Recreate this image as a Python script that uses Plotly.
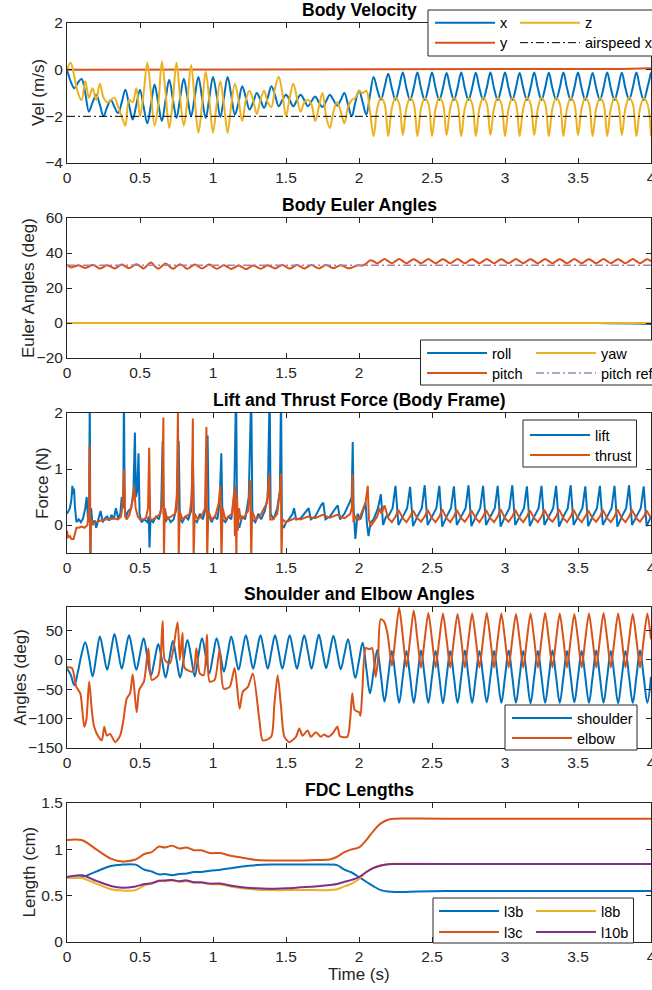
import plotly.graph_objects as go

# ---------------------------------------------------------------- data
t_grid = [
    0, .025, .05, .075, .1, .125, .15, .175,
    .2, .225, .25, .275, .3, .325, .35, .375,
    .4, .425, .45, .475, .5, .525, .55, .575,
    .6, .625, .65, .675, .7, .725, .75, .775,
    .8, .825, .85, .875, .9, .925, .95, .975,
    1, 1.025, 1.05, 1.075, 1.1, 1.125, 1.15, 1.175,
    1.2, 1.225, 1.25, 1.275, 1.3, 1.325, 1.35, 1.375,
    1.4, 1.425, 1.45, 1.475, 1.5, 1.525, 1.55, 1.575,
    1.6, 1.625, 1.65, 1.675, 1.7, 1.725, 1.75, 1.775,
    1.8, 1.825, 1.85, 1.875, 1.9, 1.925, 1.95, 1.975,
    2, 2.025, 2.05, 2.075, 2.1, 2.125, 2.15, 2.175,
    2.2, 2.225, 2.25, 2.275, 2.3, 2.325, 2.35, 2.375,
    2.4, 2.425, 2.45, 2.475, 2.5, 2.525, 2.55, 2.575,
    2.6, 2.625, 2.65, 2.675, 2.7, 2.725, 2.75, 2.775,
    2.8, 2.825, 2.85, 2.875, 2.9, 2.925, 2.95, 2.975,
    3, 3.025, 3.05, 3.075, 3.1, 3.125, 3.15, 3.175,
    3.2, 3.225, 3.25, 3.275, 3.3, 3.325, 3.35, 3.375,
    3.4, 3.425, 3.45, 3.475, 3.5, 3.525, 3.55, 3.575,
    3.6, 3.625, 3.65, 3.675, 3.7, 3.725, 3.75, 3.775,
    3.8, 3.825, 3.85, 3.875, 3.9, 3.925, 3.95, 3.975,
    4]

vel_x = [
    0, -0.5, -0.8, -0.55, -0.4, -1.0, -1.8, -1.4,
    -1.07, -1.5, -2.0, -1.6, -1.3, -1.6, -1.86, -1.4,
    -0.86, -1.5, -2.14, -1.5, -0.86, -1.6, -2.3, -1.5,
    -0.64, -1.45, -2.2, -1.3, -0.43, -1.25, -2.07, -1.2,
    -0.39, -1.2, -2.0, -1.15, -0.31, -1.2, -2.07, -1.2,
    -0.31, -1.1, -2.03, -1.2, -0.31, -1.1, -1.93, -1.4,
    -0.71, -1.2, -1.71, -1.4, -1.0, -1.3, -1.64, -1.2,
    -0.71, -1.1, -1.57, -1.3, -1.07, -1.3, -1.57, -1.3,
    -1.07, -1.3, -1.57, -1.35, -1.15, -1.4, -1.6, -1.35,
    -1.07, -1.3, -1.54, -1.3, -1.0, -1.5, -2.0, -1.4,
    -0.89, -1.4, -1.93, -1.1, -0.31, -0.85, -1.29, -0.75,
    -0.17, -0.8, -1.29, -0.75, -0.12, -0.8, -1.3, -0.78,
    -0.12, -0.8, -1.3, -0.78, -0.12, -0.8, -1.3, -0.78,
    -0.14, -0.8, -1.3, -0.78, -0.12, -0.8, -1.3, -0.78,
    -0.13, -0.8, -1.28, -0.78, -0.12, -0.8, -1.3, -0.78,
    -0.12, -0.8, -1.3, -0.78, -0.14, -0.8, -1.3, -0.78,
    -0.12, -0.8, -1.3, -0.78, -0.13, -0.8, -1.28, -0.78,
    -0.12, -0.8, -1.3, -0.78, -0.12, -0.8, -1.3, -0.78,
    -0.14, -0.8, -1.3, -0.78, -0.12, -0.8, -1.3, -0.78,
    -0.13, -0.8, -1.28, -0.78, -0.12, -0.8, -1.3, -0.78,
    -0.12]

vel_z = [
    0, 0.3, -0.3, -1.0, -1.3, -0.5, -1.2, -0.8,
    -1.3, -0.6, -1.2, -1.4, -1.3, -1.2, -1.6, -2.0,
    -2.4, -1.3, -1.4, -0.8, -2.0, -1.0, 0.3, -1.0,
    -2.4, -1.5, 0.35, -1.0, -2.5, -1.3, 0.3, -1.2,
    -2.4, -1.3, 0.2, -1.3, -2.7, -1.5, -0.1, -1.3,
    -2.7, -1.5, -0.5, -1.5, -2.7, -1.5, -0.6, -1.3,
    -2.2, -1.3, -0.9, -1.3, -1.9, -1.3, -0.9, -1.4,
    -1.6, -0.8, -0.3, -1.0, -2.0, -1.2, -0.6, -1.2,
    -1.8, -1.4, -1.3, -1.5, -2.2, -1.6, -1.0, -2.0,
    -2.5, -1.8, -1.4, -1.8, -2.3, -1.6, -1.3, -1.2,
    -0.9, -1.0, -0.9, -1.8, -2.85, -1.65, -1.2, -1.45,
    -2.85, -1.65, -1.2, -1.45, -2.8, -1.65, -1.2, -1.45,
    -2.85, -1.65, -1.22, -1.45, -2.85, -1.65, -1.2, -1.45,
    -2.8, -1.65, -1.2, -1.45, -2.85, -1.65, -1.22, -1.45,
    -2.85, -1.65, -1.2, -1.45, -2.8, -1.65, -1.2, -1.45,
    -2.85, -1.65, -1.22, -1.45, -2.85, -1.65, -1.2, -1.45,
    -2.8, -1.65, -1.2, -1.45, -2.85, -1.65, -1.22, -1.45,
    -2.85, -1.65, -1.2, -1.45, -2.8, -1.65, -1.2, -1.45,
    -2.85, -1.65, -1.22, -1.45, -2.85, -1.65, -1.2, -1.45,
    -2.8, -1.65, -1.2, -1.45, -2.85, -1.65, -1.22, -1.45,
    -2.85]

vel_y_t = [0, 3.0, 3.5, 3.8, 4.0]
vel_y = [0, 0, 0.01, 0.03, 0.06]
airspeed_t = [0, 4]
airspeed_x = [-2, -2]

pitch = [
    33.3, 31.8, 32.2, 33.0, 32.3, 31.4, 32.3, 33.2,
    32.3, 31.2, 32.0, 33.0, 32.2, 31.2, 32.2, 33.4,
    32.3, 31.3, 32.5, 33.6, 32.5, 31.2, 33.0, 34.6,
    32.6, 31.0, 32.5, 34.0, 32.5, 31.0, 32.3, 33.6,
    32.3, 31.0, 32.2, 33.5, 32.3, 31.2, 32.3, 33.4,
    32.2, 31.0, 32.0, 33.0, 32.0, 30.9, 31.8, 32.8,
    31.9, 30.8, 31.8, 32.8, 32.0, 31.0, 32.0, 33.0,
    32.1, 31.2, 32.2, 33.2, 32.1, 31.1, 32.1, 33.1,
    32.2, 31.2, 32.2, 33.2, 32.1, 31.2, 32.2, 33.2,
    32.2, 31.3, 32.2, 33.0, 32.2, 31.3, 31.6, 32.5,
    33.0, 32.8, 34.0, 35.8, 35.3, 34.1, 35.3, 36.6,
    35.3, 34.1, 35.3, 36.6, 35.3, 34.1, 35.4, 36.5,
    35.3, 34.1, 35.3, 36.6, 35.3, 34.1, 35.4, 36.5,
    35.3, 34.1, 35.3, 36.6, 35.3, 34.1, 35.4, 36.5,
    35.3, 34.1, 35.3, 36.6, 35.3, 34.1, 35.4, 36.5,
    35.3, 34.1, 35.3, 36.6, 35.3, 34.1, 35.4, 36.5,
    35.3, 34.1, 35.3, 36.6, 35.3, 34.1, 35.4, 36.5,
    35.3, 34.1, 35.3, 36.6, 35.3, 34.1, 35.4, 36.5,
    35.3, 34.1, 35.3, 36.6, 35.3, 34.1, 35.4, 36.5,
    35.3, 34.1, 35.3, 36.6, 35.3, 34.1, 35.4, 36.5,
    35.3]
roll_t = [0, 3.4, 3.7, 3.9, 4.0]
roll = [0, 0, -0.1, -0.3, -0.5]
yaw_t = [0, 4]
yaw = [0, 0]
pitch_ref_t = [0, 4]
pitch_ref = [33, 33]

lift_pts = [
    (0.000, 0.20), (0.010, 0.25), (0.020, 0.30), (0.030, 0.45), (0.037, 0.70),
    (0.043, 0.55), (0.048, 0.65), (0.055, 0.30), (0.065, 0.05), (0.080, 0.10),
    (0.095, 0.05), (0.110, 0.12), (0.125, 0.30), (0.135, 0.50), (0.145, 0.05),
    (0.152, 0.40), (0.156, 2.40), (0.160, -0.60), (0.165, 0.30), (0.175, 0.00),
    (0.190, 0.08), (0.200, -0.05), (0.215, 0.10), (0.230, 0.25), (0.245, 0.05),
    (0.260, 0.12), (0.275, 0.15), (0.290, 0.08), (0.305, 0.18), (0.320, 0.10),
    (0.335, 0.30), (0.350, 0.12), (0.365, 0.20), (0.375, 0.50), (0.385, 0.30),
    (0.390, 2.40), (0.395, 0.30), (0.405, 0.15), (0.420, 0.25), (0.440, 0.30),
    (0.455, 0.60), (0.465, 1.65), (0.472, 0.50), (0.480, 0.60), (0.490, 1.28),
    (0.497, 0.20), (0.510, 0.05), (0.530, 0.10), (0.550, 0.05), (0.560, 0.15),
    (0.565, -0.40), (0.572, 0.10), (0.590, 0.05), (0.610, 0.15), (0.630, 0.10),
    (0.645, 0.30), (0.655, 1.50), (0.662, 0.20), (0.675, 0.05), (0.690, 0.15),
    (0.710, 0.05), (0.730, 0.10), (0.750, 0.30), (0.765, 1.50), (0.773, 0.10),
    (0.790, 0.05), (0.810, 0.15), (0.830, 0.10), (0.850, 0.25), (0.862, 1.20),
    (0.870, 0.10), (0.890, 0.05), (0.910, 0.20), (0.930, 0.10), (0.950, 0.30),
    (0.963, 1.60), (0.970, 0.20), (0.990, 0.05), (1.010, 0.15), (1.030, 0.10),
    (1.045, 0.40), (1.057, 1.28), (1.065, 0.10), (1.085, 0.05), (1.105, 0.15),
    (1.125, 0.10), (1.145, 0.50), (1.158, 2.40), (1.165, 0.10), (1.180, -0.05),
    (1.200, 0.15), (1.220, 0.10), (1.245, 0.50), (1.262, 2.40), (1.270, 0.10),
    (1.290, 0.05), (1.310, 0.20), (1.330, 0.10), (1.355, 0.25), (1.375, 0.50),
    (1.388, 2.40), (1.395, 0.20), (1.415, 0.10), (1.440, 0.30), (1.458, 0.60),
    (1.466, 2.40), (1.472, 0.00), (1.485, -0.05), (1.500, 0.05), (1.520, 0.10),
    (1.545, 0.20), (1.555, 0.30), (1.570, 0.10), (1.600, 0.12), (1.640, 0.25),
    (1.655, 0.30), (1.670, 0.10), (1.700, 0.15), (1.740, 0.35), (1.755, 0.40),
    (1.770, 0.10), (1.800, 0.15), (1.840, 0.30), (1.855, 0.35), (1.870, 0.10),
    (1.900, 0.20), (1.935, 0.40), (1.950, 0.50), (1.957, 1.48), (1.963, 0.30),
    (1.975, -0.25), (1.990, 0.20), (2.010, 0.10), (2.030, 0.25), (2.045, 0.40),
    (2.055, 0.00), (2.065, -0.20), (2.080, 0.05), (2.100, 0.10), (2.130, 0.30),
    (2.150, 0.55), (2.165, 0.00), (2.185, 0.15),
    (2.20, 0.15), (2.23, 0.30), (2.25, 0.70), (2.27, 0.00),
    (2.30, 0.15), (2.33, 0.30), (2.35, 0.68), (2.37, -0.02),
    (2.40, 0.15), (2.43, 0.30), (2.45, 0.71), (2.47, 0.00),
    (2.50, 0.15), (2.53, 0.30), (2.55, 0.70), (2.57, -0.03),
    (2.60, 0.15), (2.63, 0.30), (2.65, 0.69), (2.67, 0.00),
    (2.70, 0.15), (2.73, 0.30), (2.75, 0.71), (2.77, -0.02),
    (2.80, 0.15), (2.83, 0.30), (2.85, 0.70), (2.87, 0.00),
    (2.90, 0.15), (2.93, 0.30), (2.95, 0.70), (2.97, -0.03),
    (3.00, 0.15), (3.03, 0.30), (3.05, 0.71), (3.07, 0.00),
    (3.10, 0.15), (3.13, 0.30), (3.15, 0.69), (3.17, -0.02),
    (3.20, 0.15), (3.23, 0.30), (3.25, 0.70), (3.27, 0.00),
    (3.30, 0.15), (3.33, 0.30), (3.35, 0.70), (3.37, -0.03),
    (3.40, 0.15), (3.43, 0.30), (3.45, 0.71), (3.47, 0.00),
    (3.50, 0.15), (3.53, 0.30), (3.55, 0.69), (3.57, -0.02),
    (3.60, 0.15), (3.63, 0.30), (3.65, 0.70), (3.67, 0.00),
    (3.70, 0.15), (3.73, 0.30), (3.75, 0.70), (3.77, -0.03),
    (3.80, 0.15), (3.83, 0.30), (3.85, 0.71), (3.87, 0.00),
    (3.90, 0.15), (3.93, 0.30), (3.95, 0.69), (3.97, -0.02),
    (4.00, 0.15)]

thrust_pts = [
    (0.000, -0.10), (0.008, -0.22), (0.020, -0.20), (0.030, -0.25), (0.045, -0.25),
    (0.055, -0.15), (0.065, -0.05), (0.080, -0.05), (0.100, -0.03), (0.120, -0.05),
    (0.140, 0.00), (0.150, 0.30), (0.155, 1.42), (0.160, -0.60), (0.166, 0.10),
    (0.175, 0.02), (0.200, 0.05), (0.230, 0.08), (0.260, 0.10), (0.290, 0.10),
    (0.320, 0.12), (0.350, 0.10), (0.370, 0.15), (0.380, 0.35), (0.392, 1.00),
    (0.398, 0.15), (0.410, 0.10), (0.430, 0.20), (0.450, 0.45), (0.460, 0.70),
    (0.470, 0.30), (0.485, 0.15), (0.500, 0.10), (0.520, 0.10), (0.540, 0.12),
    (0.555, 0.30), (0.563, 1.38), (0.570, 0.10), (0.590, 0.10), (0.615, 0.15),
    (0.640, 0.20), (0.652, 0.40), (0.660, 1.92), (0.664, -0.60), (0.670, 0.30),
    (0.685, 0.10), (0.710, 0.15), (0.740, 0.20), (0.752, 0.50), (0.760, 2.05),
    (0.765, -0.60), (0.772, 0.25), (0.790, 0.10), (0.815, 0.15), (0.840, 0.20),
    (0.855, 0.50), (0.862, 1.90), (0.867, -0.60), (0.875, 0.20), (0.895, 0.10),
    (0.920, 0.15), (0.945, 0.30), (0.955, 1.75), (0.960, -0.60), (0.968, 0.25),
    (0.990, 0.10), (1.015, 0.15), (1.040, 0.40), (1.050, 0.70), (1.058, -0.60),
    (1.066, 0.30), (1.085, 0.10), (1.110, 0.15), (1.130, 0.20), (1.145, 0.60),
    (1.150, -0.20), (1.155, 0.70), (1.160, -0.60), (1.165, 0.50), (1.170, -0.10),
    (1.178, 0.30), (1.190, 0.10), (1.215, 0.15), (1.240, 0.25), (1.255, 0.80),
    (1.262, -0.60), (1.268, 0.25), (1.290, 0.10), (1.320, 0.15), (1.350, 0.30),
    (1.370, 0.40), (1.385, 0.90), (1.392, 0.10), (1.410, 0.10), (1.440, 0.20),
    (1.458, 0.60), (1.465, 0.92), (1.469, -0.60), (1.475, 0.10), (1.500, 0.05),
    (1.530, 0.08), (1.560, 0.12), (1.600, 0.10), (1.650, 0.15), (1.700, 0.12),
    (1.750, 0.18), (1.800, 0.13), (1.850, 0.18), (1.900, 0.12), (1.940, 0.20),
    (1.950, 0.30), (1.955, 0.91), (1.962, 0.05), (1.975, 0.15), (2.000, 0.10),
    (2.030, 0.30), (2.045, 0.40), (2.060, 0.70), (2.068, 0.10), (2.080, -0.02),
    (2.100, 0.05), (2.125, 0.15), (2.140, 0.30), (2.155, 0.20), (2.175, 0.35),
    (2.200, 0.12), (2.225, 0.05), (2.250, 0.15), (2.270, 0.27),
    (2.300, 0.12), (2.325, 0.05), (2.350, 0.15), (2.370, 0.26),
    (2.400, 0.12), (2.425, 0.06), (2.450, 0.15), (2.470, 0.27),
    (2.500, 0.12), (2.525, 0.05), (2.550, 0.15), (2.570, 0.28),
    (2.600, 0.12), (2.625, 0.05), (2.650, 0.15), (2.670, 0.27),
    (2.700, 0.12), (2.725, 0.06), (2.750, 0.15), (2.770, 0.26),
    (2.800, 0.12), (2.825, 0.05), (2.850, 0.15), (2.870, 0.27),
    (2.900, 0.12), (2.925, 0.05), (2.950, 0.15), (2.970, 0.28),
    (3.000, 0.12), (3.025, 0.06), (3.050, 0.15), (3.070, 0.27),
    (3.100, 0.12), (3.125, 0.05), (3.150, 0.15), (3.170, 0.26),
    (3.200, 0.12), (3.225, 0.05), (3.250, 0.15), (3.270, 0.27),
    (3.300, 0.12), (3.325, 0.06), (3.350, 0.15), (3.370, 0.28),
    (3.400, 0.12), (3.425, 0.05), (3.450, 0.15), (3.470, 0.27),
    (3.500, 0.12), (3.525, 0.05), (3.550, 0.15), (3.570, 0.26),
    (3.600, 0.12), (3.625, 0.06), (3.650, 0.15), (3.670, 0.27),
    (3.700, 0.12), (3.725, 0.05), (3.750, 0.15), (3.770, 0.28),
    (3.800, 0.12), (3.825, 0.05), (3.850, 0.15), (3.870, 0.27),
    (3.900, 0.12), (3.925, 0.06), (3.950, 0.15), (3.970, 0.26),
    (4.000, 0.12)]

shoulder = [
    -15, -25, -43, -20, 10, 30, 5, -28,
    5, 40, 12, -17, 13, 44, 15, -15,
    14, 42, 13, -17, 10, 37, 5, -27,
    0, 27, 0, -30, 0, 32, 1, -30,
    2, 34, 5, -28, 7, 37, 7, -23,
    7, 37, 10, -20, 10, 40, 12, -17,
    13, 42, 14, -15, 14, 42, 14, -15,
    14, 42, 14, -15, 14, 42, 14, -15,
    14, 42, 14, -15, 14, 43, 14, -14,
    14, 41, 13, -16, 10, 35, 2, -31,
    -1, 29, -14, -57, -20, 17, -27, -71,
    -28, 15, -29, -73, -29, 15, -29, -73,
    -29, 16, -29, -73, -29, 15, -29, -74,
    -29, 15, -29, -73, -29, 16, -29, -73,
    -29, 15, -29, -72, -29, 15, -29, -73,
    -29, 16, -29, -73, -29, 15, -29, -74,
    -29, 15, -29, -73, -29, 16, -29, -73,
    -29, 15, -29, -72, -29, 15, -29, -73,
    -29, 16, -29, -73, -29, 15, -29, -74,
    -29, 15, -29, -73, -29, 16, -29, -73,
    -29]

elbow_pts = [
    (0.000, -12.6), (0.034, -14), (0.064, -46), (0.091, -57), (0.118, -114),
    (0.132, -103), (0.152, -37), (0.170, -86), (0.186, -114), (0.216, -131),
    (0.239, -137), (0.255, -114), (0.273, -129), (0.295, -126), (0.330, -140),
    (0.364, -129), (0.386, -103), (0.409, -66), (0.432, -57), (0.450, -25),
    (0.477, -89), (0.495, -51), (0.527, -37), (0.557, 20), (0.580, -34),
    (0.625, -26), (0.655, 66), (0.670, 0), (0.705, -6), (0.757, 64),
    (0.773, 0), (0.791, 46), (0.807, -14), (0.864, -20), (0.886, 20),
    (0.909, -23), (0.936, -26), (0.959, 43), (0.977, -37), (1.011, -34),
    (1.045, 17), (1.073, -49), (1.114, -46), (1.148, -14), (1.182, -83),
    (1.205, -54), (1.239, -46), (1.273, -23), (1.318, -103), (1.341, -137),
    (1.398, -131), (1.420, -77), (1.443, -26), (1.466, -80), (1.489, -131),
    (1.523, -140), (1.568, -131), (1.591, -117), (1.614, -129), (1.648, -120),
    (1.670, -131), (1.705, -123), (1.739, -131), (1.760, -127), (1.790, -131),
    (1.820, -125), (1.852, -114), (1.870, -130), (1.920, -131), (1.940, -100),
    (1.954, -57), (1.970, -85), (1.990, -88), (2.000, -89), (2.010, -95),
    (2.023, -51), (2.046, 20), (2.070, 18), (2.090, 20), (2.114, -29),
    (2.130, 0), (2.148, 69), (2.170, 66), (2.195, 45), (2.225, -10),
    (2.250, 40), (2.275, 89), (2.300, 40), (2.325, -12), (2.350, 35),
    (2.375, 84), (2.400, 35), (2.425, -13), (2.450, 35), (2.475, 80),
    (2.500, 35), (2.525, -13), (2.550, 35), (2.575, 79),
    (2.600, 35), (2.625, -13), (2.650, 35), (2.675, 78),
    (2.700, 35), (2.725, -13), (2.750, 35), (2.775, 79),
    (2.800, 35), (2.825, -13), (2.850, 35), (2.875, 80),
    (2.900, 35), (2.925, -13), (2.950, 35), (2.975, 79),
    (3.000, 35), (3.025, -13), (3.050, 35), (3.075, 78),
    (3.100, 35), (3.125, -13), (3.150, 35), (3.175, 79),
    (3.200, 35), (3.225, -13), (3.250, 35), (3.275, 80),
    (3.300, 35), (3.325, -13), (3.350, 35), (3.375, 79),
    (3.400, 35), (3.425, -13), (3.450, 35), (3.475, 78),
    (3.500, 35), (3.525, -13), (3.550, 35), (3.575, 79),
    (3.600, 35), (3.625, -13), (3.650, 35), (3.675, 80),
    (3.700, 35), (3.725, -13), (3.750, 35), (3.775, 79),
    (3.800, 35), (3.825, -13), (3.850, 35), (3.875, 78),
    (3.900, 35), (3.925, -13), (3.950, 35), (3.975, 79),
    (4.000, 35)]

fdc_t = [0, 0.1, 0.2, 0.3, 0.38, 0.47, 0.53, 0.58, 0.63, 0.67,
         0.72, 0.77, 0.82, 0.87, 0.92, 0.98, 1.05, 1.12, 1.2, 1.3,
         1.4, 1.5, 1.6, 1.7, 1.8, 1.85, 1.9, 1.95, 2.0, 2.05,
         2.1, 2.15, 2.2, 2.25, 2.3, 2.4, 2.6, 3.0, 3.5, 4.0]
l3b = [0.70, 0.70, 0.76, 0.82, 0.835, 0.835, 0.78, 0.76, 0.73, 0.735,
       0.72, 0.735, 0.74, 0.755, 0.755, 0.77, 0.78, 0.795, 0.815, 0.83,
       0.835, 0.835, 0.835, 0.835, 0.835, 0.83, 0.78, 0.75, 0.70, 0.65,
       0.60, 0.56, 0.545, 0.54, 0.54, 0.545, 0.55, 0.55, 0.55, 0.55]
l3c = [1.10, 1.10, 1.00, 0.90, 0.87, 0.89, 0.95, 0.97, 1.03, 1.02,
       1.04, 1.01, 1.02, 0.99, 0.99, 0.96, 0.96, 0.93, 0.91, 0.885,
       0.88, 0.88, 0.88, 0.885, 0.89, 0.92, 0.97, 1.00, 1.02, 1.10,
       1.20, 1.28, 1.32, 1.33, 1.333, 1.333, 1.33, 1.33, 1.33, 1.33]
l8b = [0.69, 0.69, 0.63, 0.57, 0.555, 0.56, 0.61, 0.63, 0.66, 0.655,
       0.665, 0.65, 0.655, 0.64, 0.64, 0.625, 0.62, 0.60, 0.58, 0.565,
       0.56, 0.56, 0.56, 0.56, 0.56, 0.57, 0.60, 0.63, 0.68, 0.755,
       0.80, 0.825, 0.84, 0.845, 0.845, 0.845, 0.843, 0.843, 0.843, 0.843]
l10b = [0.70, 0.72, 0.66, 0.605, 0.585, 0.60, 0.625, 0.635, 0.66, 0.665,
        0.67, 0.655, 0.665, 0.645, 0.645, 0.63, 0.63, 0.61, 0.59, 0.58,
        0.575, 0.58, 0.59, 0.60, 0.615, 0.625, 0.65, 0.67, 0.70, 0.755,
        0.80, 0.825, 0.84, 0.842, 0.842, 0.842, 0.842, 0.842, 0.842, 0.842]

x_tickvals = [0, 0.5, 1, 1.5, 2, 2.5, 3, 3.5, 4]
x_ticktext = ['0', '0.5', '1', '1.5', '2', '2.5', '3', '3.5', '4']
# panel 2: the labels right of 2 sit under the legend box in the reference
x_ticktext_p2 = ['0', '0.5', '1', '1.5', '2', '', '', '', '']

assert len(t_grid) == len(vel_x) == len(vel_z) == len(pitch) == len(shoulder) == 161

# ---------------------------------------------------------------- style
FONT = "Liberation Sans, Arial, Helvetica, sans-serif"
BLUE, ORANGE, YELLOW, PURPLE = "#0072BD", "#D95319", "#EDB120", "#7E2F8E"
AX = "#262626"
# the figure is wider than the 652 px window: its right part (legend overflow)
# is cut off by the window edge, exactly as in the reference picture
W, H = 720, 990
ML = 67
PLOT_RIGHT = 651
MR = W - PLOT_RIGHT
PW = PLOT_RIGHT - ML


def py(p):
    return 1 - p / H


def px(p):
    return (p - ML) / PW


panels = [(23, 163), (218, 358), (413, 553), (607, 748), (803, 942)]

fig = go.Figure()


def line(x, y, name, color, ax, leg, width=2, dash=None, shape='linear', smoothing=1):
    ln = dict(color=color, width=width, shape=shape)
    if shape == 'spline':
        ln['smoothing'] = smoothing
    if dash:
        ln['dash'] = dash
    fig.add_trace(go.Scatter(x=x, y=y, name=name, mode='lines', line=ln,
                             xaxis='x' + ax, yaxis='y' + ax, legend=leg,
                             hoverinfo='skip'))


# panel 1
line(t_grid, vel_x, 'x', BLUE, '', 'legend', shape='spline')
line(vel_y_t, vel_y, 'y', ORANGE, '', 'legend2')
line(t_grid, vel_z, 'z', YELLOW, '', 'legend3', shape='spline')
line(airspeed_t, airspeed_x, 'airspeed x', 'black', '', 'legend4', width=1,
     dash='8px,3px,2px,3px')
# panel 2
line(roll_t, roll, 'roll', BLUE, '2', 'legend5', shape='spline')
line(t_grid, pitch, 'pitch', ORANGE, '2', 'legend6', shape='spline')
line(yaw_t, yaw, 'yaw', YELLOW, '2', 'legend7')
line(pitch_ref_t, pitch_ref, 'pitch ref', '#A77FB6', '2', 'legend8', width=1.5,
     dash='8px,3px,2px,3px')
# panel 3
line([p[0] for p in lift_pts], [p[1] for p in lift_pts], 'lift', BLUE, '3', 'legend9')
line([p[0] for p in thrust_pts], [p[1] for p in thrust_pts], 'thrust', ORANGE, '3', 'legend10')
# panel 4
line(t_grid, shoulder, 'shoulder', BLUE, '4', 'legend11', shape='spline')
line([p[0] for p in elbow_pts], [p[1] for p in elbow_pts], 'elbow', ORANGE, '4',
     'legend12', shape='spline', smoothing=0.7)
# panel 5
line(fdc_t, l3b, 'l3b', BLUE, '5', 'legend13', shape='spline')
line(fdc_t, l3c, 'l3c', ORANGE, '5', 'legend14', shape='spline')
line(fdc_t, l8b, 'l8b', YELLOW, '5', 'legend15', shape='spline')
line(fdc_t, l10b, 'l10b', PURPLE, '5', 'legend16', shape='spline')

tick_font = dict(family=FONT, size=15.5, color=AX)
title_font = dict(family=FONT, size=17, color=AX)
common = dict(showline=True, linecolor=AX, linewidth=1, mirror='ticks',
              ticks='inside', ticklen=5, tickwidth=1, tickcolor=AX,
              showgrid=False, zeroline=False, tickfont=tick_font)

y_specs = [
    dict(range=[-4, 2], tickvals=[-4, -2, 0, 2], title='Vel (m/s)', tx=38),
    dict(range=[-20, 60], tickvals=[-20, 0, 20, 40, 60], title='Euler Angles (deg)', tx=28),
    dict(range=[-0.5, 2], tickvals=[0, 1, 2], title='Force (N)', tx=43),
    dict(range=[-150, 90], tickvals=[-150, -100, -50, 0, 50], title='Angles (deg)', tx=20),
    dict(range=[0, 1.5], tickvals=[0, 0.5, 1, 1.5], ticktext=['0', '0.5', '1', '1.5'],
         title='Length (cm)', tx=29),
]
titles = ['Body Velocity', 'Body Euler Angles', 'Lift and Thrust Force (Body Frame)',
          'Shoulder and Elbow Angles', 'FDC Lengths']

layout = dict(width=W, height=H, margin=dict(l=ML, r=MR, t=0, b=0, autoexpand=False),
              paper_bgcolor='white', plot_bgcolor='white', showlegend=True,
              font=dict(family=FONT, color=AX), annotations=[], shapes=[])

for i, ((top, bot), ys, ttl) in enumerate(zip(panels, y_specs, titles)):
    sfx = '' if i == 0 else str(i + 1)
    xa = dict(common, domain=[0, 1], range=[0, 4], tickvals=x_tickvals,
              ticktext=x_ticktext_p2 if i == 1 else x_ticktext,
              anchor='y' + sfx)
    ya = dict(common, domain=[py(bot), py(top)], range=ys['range'], tickvals=ys['tickvals'],
              anchor='x' + sfx)
    if 'ticktext' in ys:
        ya['ticktext'] = ys['ticktext']
    layout['xaxis' + sfx] = xa
    layout['yaxis' + sfx] = ya
    # panel title
    layout['annotations'].append(dict(
        text='<b>' + ttl + '</b>', x=0.5, xref='paper', y=py(top - 13), yref='paper',
        xanchor='center', yanchor='middle', showarrow=False,
        font=dict(family=FONT, size=17.5, color='black')))
    # y-axis label
    layout['annotations'].append(dict(
        text=ys['title'], x=px(ys['tx']), xref='paper', y=py((top + bot) / 2), yref='paper',
        xanchor='center', yanchor='middle', textangle=-90, showarrow=False,
        font=title_font))

# x-axis label of the bottom panel
layout['annotations'].append(dict(
    text='Time (s)', x=0.5, xref='paper', y=py(974), yref='paper',
    xanchor='center', yanchor='middle', showarrow=False, font=title_font))

# legend frames (x0, x1, y0, y1 in px)
boxes = [(428, 760, 10, 56), (420.5, 760, 340, 385), (523, 636.5, 420, 467),
         (505, 637, 705, 750), (433, 633.5, 898, 943)]
for x0, x1, y0, y1 in boxes:
    layout['shapes'].append(dict(type='rect', xref='paper', yref='paper',
                                 x0=px(x0), x1=px(x1), y0=py(y1), y1=py(y0),
                                 fillcolor='white', line=dict(color=AX, width=1),
                                 layer='above'))

# legend entries: (left px, row centre px)
leg_pos = [(430, 22.7), (430, 42.7), (515, 22.7), (515, 42.7),
           (422, 353), (422, 373), (531, 353), (531, 373),
           (525, 435), (525, 455),
           (507, 718), (507, 738),
           (434, 911), (434, 932), (531, 911), (531, 932)]
for k, (lx, ly) in enumerate(leg_pos):
    key = 'legend' if k == 0 else 'legend%d' % (k + 1)
    layout[key] = dict(x=px(lx), y=py(ly), xanchor='left', yanchor='middle',
                       bgcolor='rgba(0,0,0,0)', borderwidth=0, itemwidth=60,
                       font=dict(family=FONT, size=14.5, color='black'))

fig.update_layout(**layout)
fig.write_html(
    "out.html",
    config={'staticPlot': True, 'displayModeBar': False},
    post_script=("document.body.style.margin='0';document.body.style.padding='0';"
                 "document.body.style.overflow='hidden';"
                 "document.documentElement.style.overflow='hidden';"))
